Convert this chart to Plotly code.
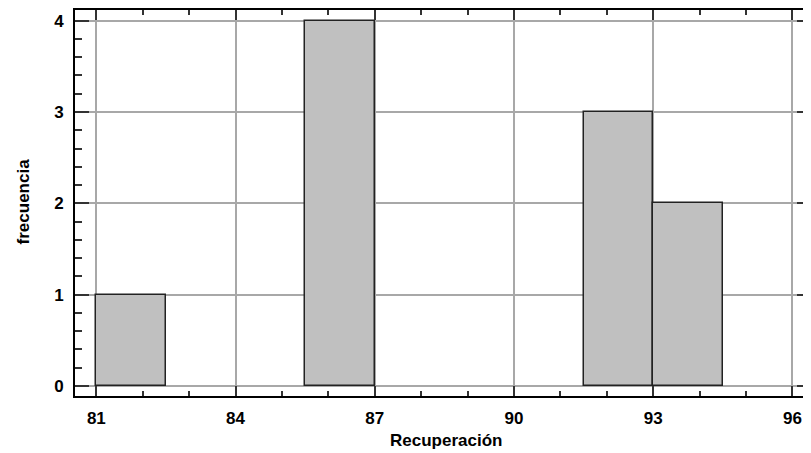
import plotly.graph_objects as go

bin_left = [81.0, 85.5, 91.5, 93.0]
counts = [1, 4, 3, 2]
bin_width = 1.5
x_title = "Recuperación"
y_title = "frecuencia"

fig = go.Figure(go.Bar(
    x=bin_left, y=counts, width=bin_width, offset=0,
    marker=dict(color="#c0c0c0", line=dict(color="#222222", width=1.5)),
))

fnt = dict(family="Liberation Sans, Arial, sans-serif", size=17, color="black", weight="bold")

# page body has an 8px margin, so the figure is sized to fill the rest of the window
fig.update_layout(
    width=803, height=445,
    margin=dict(l=67, r=0, t=2, b=57, autoexpand=False),
    plot_bgcolor="white", paper_bgcolor="white",
    showlegend=False, bargap=0,
    font=fnt,
    annotations=[
        dict(text=x_title, xref="paper", yref="paper", x=0.504, y=-0.114,
             xanchor="center", yanchor="middle", showarrow=False, font=dict(size=17)),
        dict(text=y_title, xref="paper", yref="paper", x=-0.0707, y=0.504,
             xanchor="center", yanchor="middle", showarrow=False, textangle=-90, font=dict(size=17)),
    ],
)
fig.update_xaxes(
    range=[80.54, 96.4], tick0=81, dtick=3, automargin=False,
    showgrid=True, gridcolor="#a8a8a8", gridwidth=1.5,
    zeroline=False,
    showline=True, linecolor="black", linewidth=2, mirror="ticks",
    ticks="inside", ticklen=10, tickwidth=1.5, tickcolor="#333333",
    minor=dict(dtick=1, tick0=81, ticks="inside", ticklen=5, tickcolor="#333333", showgrid=False),
    tickfont=dict(size=17),
    ticklabelstandoff=6,
)
fig.update_yaxes(
    range=[-0.11, 4.117], tick0=0, dtick=1, automargin=False,
    showgrid=True, gridcolor="#a8a8a8", gridwidth=1.5,
    zeroline=False,
    showline=True, linecolor="black", linewidth=2, mirror="ticks",
    ticks="inside", ticklen=14, tickwidth=1.5, tickcolor="#333333",
    minor=dict(dtick=0.2, tick0=0, ticks="inside", ticklen=7, tickcolor="#333333", showgrid=False),
    tickfont=dict(size=17),
    ticklabelstandoff=6,
)
fig.write_html("out.html")
